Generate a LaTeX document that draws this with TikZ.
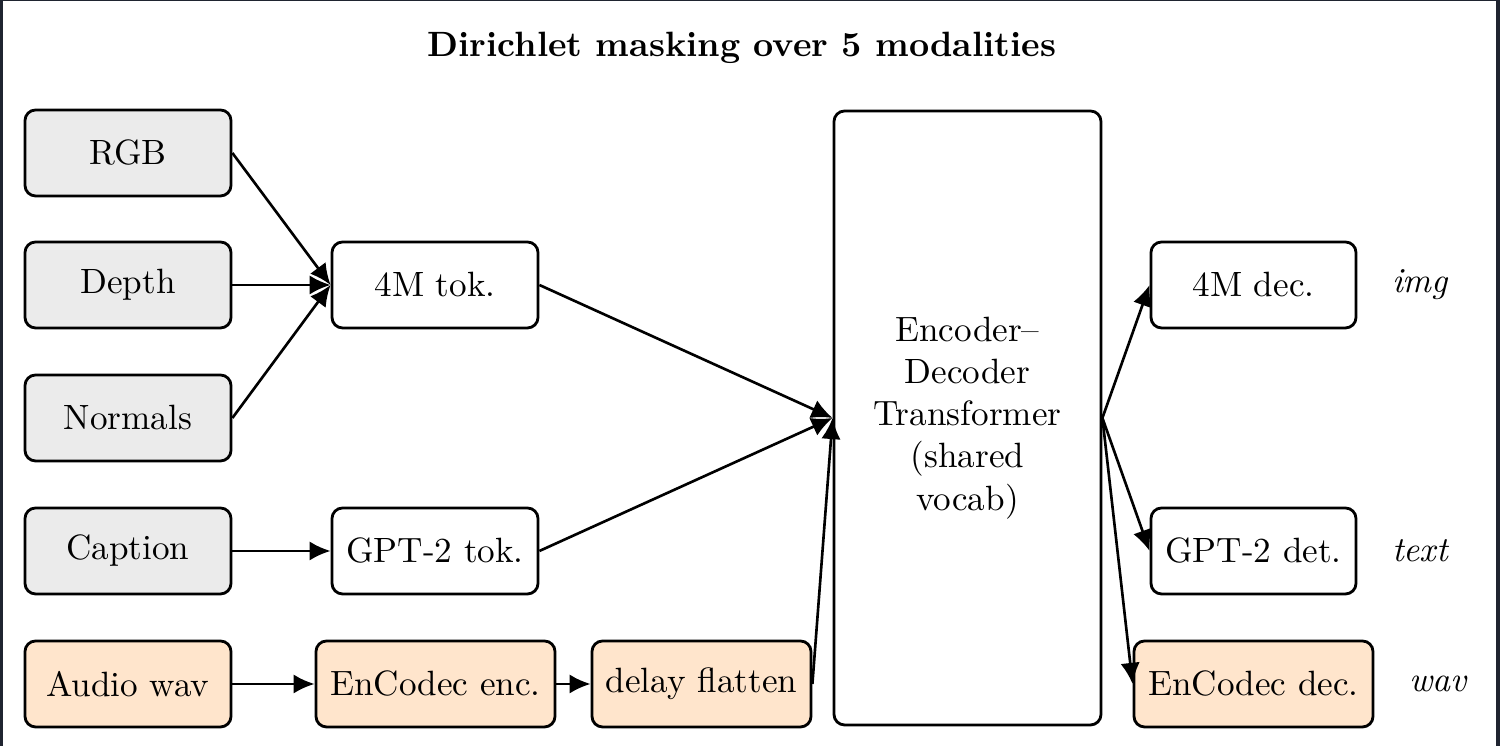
\documentclass[tikz,border=0pt]{standalone}
\usepackage{xcolor}
\usepackage{tikz}
\usetikzlibrary{arrows.meta,positioning}
\definecolor{framedark}{HTML}{1F2430}

\begin{document}
\begin{tikzpicture}[
  font=\normalsize,
  box/.style={draw=black, thick, rounded corners=3pt, fill=#1, align=center, inner sep=2pt, minimum width=2.06cm, minimum height=0.86cm},
  box/.default=white,
  modlbl/.style={font=\itshape},
  arr/.style={-{Latex[length=6pt,width=5.5pt]}, black, line width=0.75pt}]
% frame of the page
\fill[framedark] (0,0) rectangle (15,7.46);
\fill[white] (0.03,0) rectangle (14.96,7.45);
\useasboundingbox (0,0) rectangle (15,7.46);
\node[font=\bfseries] (title) at (7.42,6.98) {Dirichlet masking over 5 modalities};
% inputs
\foreach \name/\txt/\y in {rgb/RGB/5.93,depth/Depth/4.61,normals/Normals/3.28,caption/Caption/1.95}
  \node[box=black!8] (\name) at (1.28,\y) {\txt};
\node[box=orange!20] (audio) at (1.28,0.62) {Audio wav};
% tokenizers
\node[box] (tokfm) at (4.35,4.61) {4M tok.};
\node[box] (tokgpt) at (4.35,1.95) {GPT-2 tok.};
\node[box=orange!20, minimum width=2.39cm] (encenc) at (4.355,0.62) {EnCodec enc.};
\node[box=orange!20, minimum width=2.19cm] (flat) at (7.015,0.62) {delay flatten};
% model
\node[box, minimum width=2.67cm, minimum height=6.14cm] (tf) at (9.675,3.28) {Encoder--\\Decoder\\Transformer\\(shared\\vocab)};
% decoders
\node[box, minimum width=2.05cm] (decfm) at (12.535,4.61) {4M dec.};
\node[box, minimum width=2.05cm] (decgpt) at (12.535,1.95) {GPT-2 det.};
\node[box=orange!20, minimum width=2.39cm] (decenc) at (12.535,0.62) {EnCodec dec.};
\node[modlbl] (limg) at (14.2,4.61) {img};
\node[modlbl] (ltext) at (14.2,1.95) {text};
\node[modlbl] (lwav) at (14.38,0.62) {wav};
% connectors
\foreach \src in {rgb,depth,normals}
  \draw[arr] (\src.east) -- (tokfm.west);
\draw[arr] (caption) -- (tokgpt);
\draw[arr] (audio) -- (encenc);
\draw[arr] (encenc) -- (flat);
\foreach \src in {tokfm,tokgpt,flat}
  \draw[arr] (\src.east) -- (tf.west);
\foreach \dst in {decfm,decgpt,decenc}
  \draw[arr] (tf.east) -- (\dst.west);
\end{tikzpicture}
\end{document}
